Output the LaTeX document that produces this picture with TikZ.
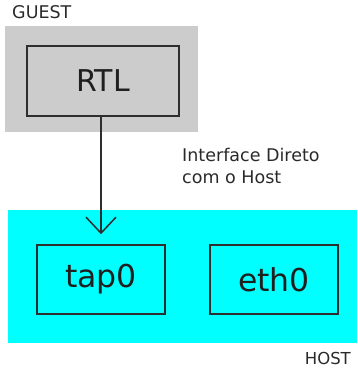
\documentclass[tikz,border=0pt]{standalone}
\usepackage{fontspec}
\setmainfont{DejaVu Sans}
\usetikzlibrary{arrows.meta}
\definecolor{guestgray}{HTML}{CCCCCC}
\definecolor{hostcyan}{HTML}{00FFFF}
\definecolor{edgegray}{HTML}{2E2E2E}
\definecolor{labelgray}{HTML}{2A2A2A}
\tikzset{
  devbox/.style={draw=edgegray, line width=1.5pt, minimum width=128pt, minimum height=69pt,
    font=\fontsize{31.5}{36}\selectfont, text=black!88, inner sep=0pt},
  smalltext/.style={font=\fontsize{17.5}{22}\selectfont, text=labelgray, inner sep=0pt},
  link/.style={line width=1.5pt, draw=edgegray, -{Straight Barb[length=16pt,width=30pt,line width=1.5pt]}}
}
\begin{document}
\begin{tikzpicture}[x=1pt,y=1pt]
  \useasboundingbox (0,0) rectangle (357,369);
  % guest zone
  \fill[guestgray] (5,237) rectangle (198,343);
  \node[smalltext, anchor=base west] (guestlbl) at (12,350) {GUEST};
  \node[devbox, fill=guestgray, minimum width=152pt, minimum height=70pt,
        font=\fontsize{30}{36}\selectfont] (rtl) at (103,288) {RTL};
  % host zone
  \fill[hostcyan] (8,26) rectangle (357,159);
  \node[smalltext, font=\fontsize{16.5}{22}\selectfont, anchor=base east] (hostlbl) at (351,5) {HOST};
  \node[devbox, fill=hostcyan] (tap0) at (101,89.5) {tap0};
  \node[devbox, fill=hostcyan] (eth0) at (274,89.5) {eth0};
  % link between guest and host
  \draw[link, shorten >=10pt] (rtl.south -| tap0) -- (tap0.north);
  \node[smalltext, anchor=north west, align=left] (iflbl) at (182,221) {Interface Direto\\com o Host};
\end{tikzpicture}
\end{document}
